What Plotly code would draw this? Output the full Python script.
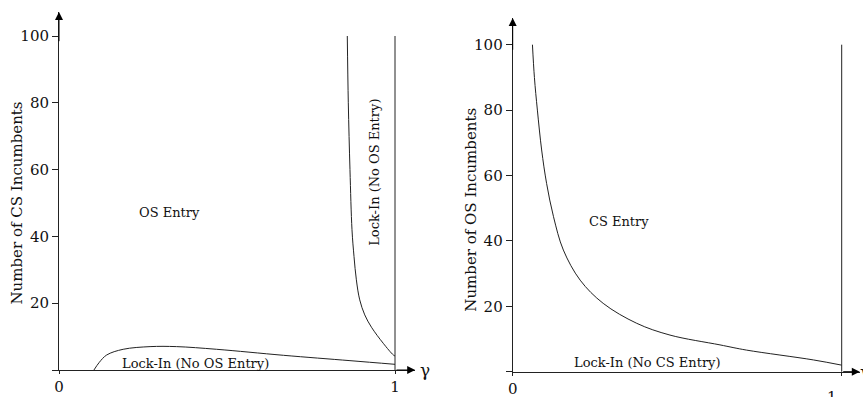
import plotly.graph_objects as go

# ---------------- data ----------------
# Left panel: boundaries in (gamma, number of CS incumbents)
left_upper_gamma = [0.858, 0.861, 0.866, 0.872, 0.878, 0.885, 0.895, 0.910, 0.930, 0.965, 0.995, 1.0]
left_upper_n = [100, 80, 60, 42, 34, 27, 21, 16.5, 12.8, 8, 4.5, 4.2]
left_lower_gamma = [0.104, 0.12, 0.142, 0.191, 0.271, 0.35, 0.469, 0.668, 0.866, 1.0]
left_lower_n = [0, 2.3, 4.5, 6.2, 7.0, 7.0, 6.2, 4.4, 2.8, 1.7]
# Right panel: boundary in (gamma, number of OS incumbents)
right_gamma = [0.060, 0.066, 0.075, 0.088, 0.103, 0.124, 0.154, 0.205, 0.275, 0.377, 0.478,
               0.630, 0.711, 0.914, 1.0]
right_n = [100, 90, 80, 67.8, 57.6, 47.4, 37.2, 28.0, 20.9, 14.8, 11.2, 8.2, 6.6, 3.6, 2.0]
# gamma = 1 boundary lines
bound_gamma = [1, 1]
left_bound_n = [0, 100]
right_bound_n = [-2, 100]

y_ticks = [0, 20, 40, 60, 80, 100]
y_ticktext = ["", "20", "40", "60", "80", "100"]

left_y_title = "Number of CS Incumbents"
right_y_title = "Number of OS Incumbents"

W, H = 863, 397
FONT = "DejaVu Serif"
LINE = "#222222"

# pixel layout of each panel: (x0 px at gamma=0, px per gamma unit, y0 px at n=0, px per n unit)
L = dict(x0=59.0, sx=336.0, y0=370.0, sy=3.34, xmax=1.06, ymax=107.2)
R = dict(x0=512.7, sx=329.0, y0=371.7, sy=3.27, xmax=1.055, ymax=108.2)


def dom(p):
    xd = [p["x0"] / W, (p["x0"] + p["sx"] * p["xmax"]) / W]
    yd = [1 - p["y0"] / H, 1 - (p["y0"] - p["sy"] * p["ymax"]) / H]
    return xd, yd


fig = go.Figure()
line_style = dict(color=LINE, width=1)
curve_style = dict(color=LINE, width=1, shape="spline", smoothing=1.0)

fig.add_trace(go.Scatter(x=left_upper_gamma, y=left_upper_n, mode="lines", line=curve_style,
                         xaxis="x", yaxis="y", hoverinfo="skip"))
fig.add_trace(go.Scatter(x=left_lower_gamma, y=left_lower_n, mode="lines", line=curve_style,
                         xaxis="x", yaxis="y", hoverinfo="skip"))
fig.add_trace(go.Scatter(x=bound_gamma, y=left_bound_n, mode="lines", line=line_style,
                         xaxis="x", yaxis="y", hoverinfo="skip"))
fig.add_trace(go.Scatter(x=right_gamma, y=right_n, mode="lines", line=curve_style,
                         xaxis="x2", yaxis="y2", hoverinfo="skip"))
fig.add_trace(go.Scatter(x=bound_gamma, y=right_bound_n, mode="lines", line=line_style,
                         xaxis="x2", yaxis="y2", hoverinfo="skip", cliponaxis=False))

lxd, lyd = dom(L)
rxd, ryd = dom(R)

tick_font = dict(family=FONT, size=15, color="#111")
common_x = dict(showgrid=False, zeroline=False, showline=True, linecolor=LINE, linewidth=1,
                ticks="outside", tickcolor=LINE, tickfont=tick_font, automargin=False,
                fixedrange=True)
common_y = dict(showgrid=False, zeroline=False, showline=True, linecolor=LINE, linewidth=1,
                ticks="outside", ticklen=6, tickcolor=LINE, tickfont=tick_font,
                tickvals=y_ticks, ticktext=y_ticktext, automargin=False, fixedrange=True)

fig.update_layout(
    width=W, height=H, margin=dict(l=0, r=0, t=0, b=0),
    paper_bgcolor="white", plot_bgcolor="white", showlegend=False,
    font=dict(family=FONT, color="#111"),
    xaxis=dict(common_x, domain=lxd, range=[0, L["xmax"]], anchor="y",
               tickvals=[0, 1], ticktext=["0", "1"], ticklen=3),
    yaxis=dict(common_y, domain=lyd, range=[0, L["ymax"]], anchor="x"),
    xaxis2=dict(common_x, domain=rxd, range=[0, R["xmax"]], anchor="y2",
                tickvals=[0, 1], ticktext=["0", ""], ticklen=3),
    yaxis2=dict(common_y, domain=ryd, range=[0, R["ymax"]], anchor="x2"),
)

ann_font = dict(family=FONT, size=13, color="#111")
title_font = dict(family=FONT, size=15, color="#111")
arrow = dict(showarrow=True, arrowhead=2, arrowsize=1.6, arrowwidth=1, arrowcolor="#000", text="")

annotations = [
    # arrows on axes
    dict(arrow, x=0, y=L["ymax"], ax=0, ay=98, xref="x", yref="y", axref="x", ayref="y"),
    dict(arrow, x=L["xmax"], y=0, ax=1.0, ay=0, xref="x", yref="y", axref="x", ayref="y"),
    dict(arrow, x=0, y=R["ymax"], ax=0, ay=98, xref="x2", yref="y2", axref="x2", ayref="y2"),
    dict(arrow, x=R["xmax"], y=0, ax=1.0, ay=0, xref="x2", yref="y2", axref="x2", ayref="y2"),
    # axis titles
    dict(text=left_y_title, x=16.5 / W, y=1 - 203 / H, xref="paper", yref="paper",
         xanchor="center", yanchor="middle", textangle=-90, showarrow=False, font=title_font),
    dict(text=right_y_title, x=470.7 / W, y=1 - 210 / H, xref="paper", yref="paper",
         xanchor="center", yanchor="middle", textangle=-90, showarrow=False, font=title_font),
    # gamma labels
    dict(text="γ", x=L["xmax"], y=0, xref="x", yref="y", xanchor="left", yanchor="middle",
         xshift=3, showarrow=False, font=dict(family=FONT, size=17, color="#111")),
    dict(text="γ", x=R["xmax"], y=0, xref="x2", yref="y2", xanchor="left", yanchor="middle",
         xshift=-2, showarrow=False, font=dict(family=FONT, size=17, color="#111")),
    # right panel "1" tick label
    dict(text="1", x=1, y=0, xref="x2", yref="y2", xanchor="center", yanchor="top",
         xshift=-10, yshift=-14, showarrow=False, font=tick_font),
    # region labels
    dict(text="OS Entry", x=0.33, y=47.3, xref="x", yref="y", showarrow=False, font=ann_font),
    dict(text="Lock-In (No OS Entry)", x=0.405, y=1.8, xref="x", yref="y", showarrow=False,
         font=ann_font),
    dict(text="Lock-In (No OS Entry)", x=0.94, y=59.3, xref="x", yref="y", showarrow=False,
         textangle=-90, font=ann_font),
    dict(text="CS Entry", x=0.324, y=45.9, xref="x2", yref="y2", showarrow=False, font=ann_font),
    dict(text="Lock-In (No CS Entry)", x=0.409, y=2.9, xref="x2", yref="y2", showarrow=False,
         font=ann_font),
]
fig.update_layout(annotations=annotations)

fig.write_html(
    "out.html",
    config={"displayModeBar": False, "staticPlot": True},
    post_script="document.body.style.margin='0';document.body.style.overflow='hidden';",
)
